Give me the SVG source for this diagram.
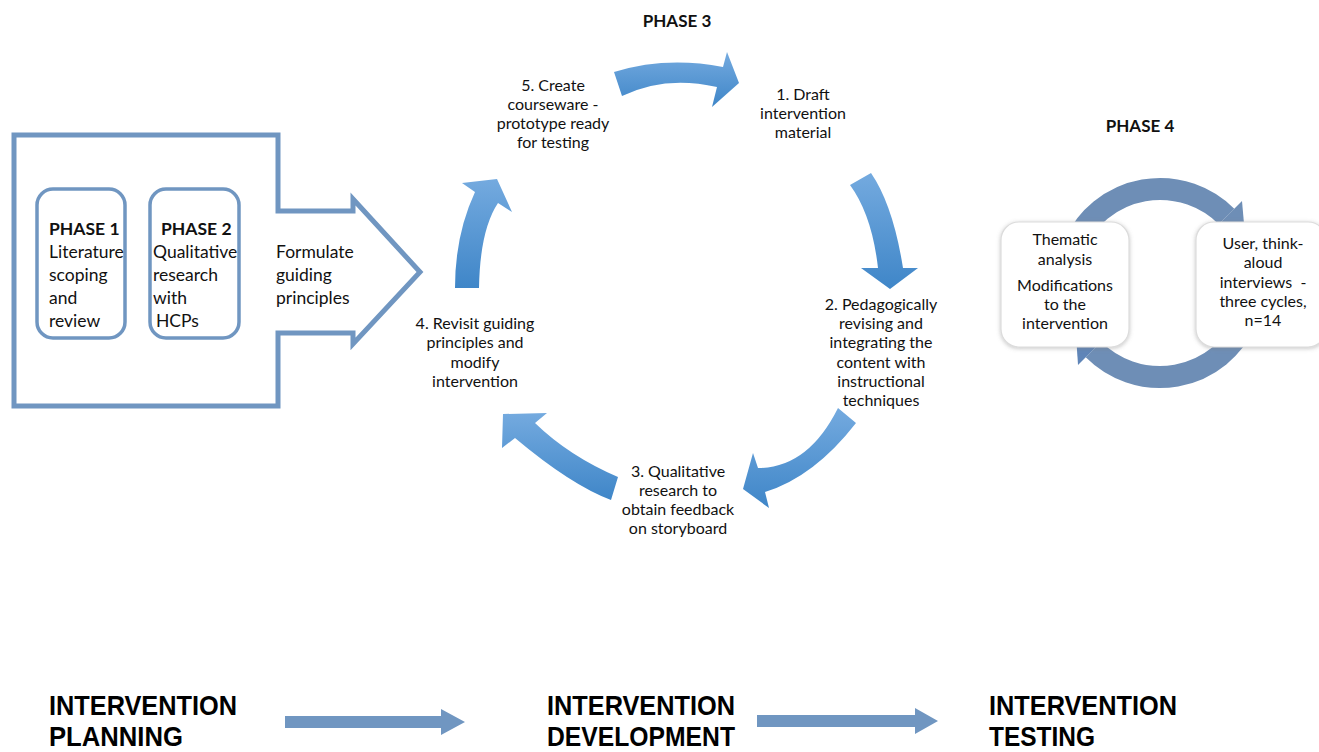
<svg xmlns="http://www.w3.org/2000/svg" width="1319" height="752" viewBox="0 0 1319 752">
  <defs>
    <!-- vertical blue gradient shared by the five cycle arrows -->
    <linearGradient id="cycleBlue" x1="0" y1="0" x2="0" y2="1">
      <stop offset="0" stop-color="#74aadf"/>
      <stop offset="1" stop-color="#3f86c8"/>
    </linearGradient>
    <filter id="softShadow" x="-20%" y="-20%" width="140%" height="140%">
      <feDropShadow dx="0" dy="1" stdDeviation="2.2" flood-color="#7a7a7a" flood-opacity="0.45"/>
    </filter>
    <style>
      .txt { font-family: Lato, "Liberation Sans", sans-serif; font-size: 16px; fill: #111; }
      .mid { text-anchor: middle; }
      .big { font-size: 17.5px; }
      .bold { font-weight: bold; }
      .outline { fill: none; stroke: #7096c1; stroke-linejoin: miter; }
      .cycle { fill: url(#cycleBlue); }
      .loop { fill: none; stroke: #6e8eb6; stroke-width: 22; }
      .loophead { fill: #6e8eb6; }
      .card { fill: #ffffff; stroke: #dcdcdc; stroke-width: 1.2; filter: url(#softShadow); }
      .stage { font-family: "Liberation Sans", Arial, sans-serif; font-weight: bold; font-size: 28px; fill: #000; }
      .flow { fill: #7096c1; }
    </style>
  </defs>

  <rect width="1319" height="752" fill="#ffffff"/>

  <!-- Intervention planning: outline block arrow holding phases 1 and 2 -->
  <g id="planning">
    <path class="outline" stroke-width="5" d="M14,135 H278 V211 H353 V199 L420,272 L353,344 V333 H278 V406 H14 Z"/>
    <text class="txt big" x="276" y="258">Formulate</text>
    <text class="txt big" x="276" y="281">guiding</text>
    <text class="txt big" x="276" y="304">principles</text>
  </g>

  <g id="phase1">
    <rect class="outline" stroke-width="3.5" x="37" y="189" width="88" height="149" rx="16"/>
    <text class="txt big bold" x="49" y="235">PHASE 1</text>
    <text class="txt big" x="49" y="258">Literature</text>
    <text class="txt big" x="49" y="281">scoping</text>
    <text class="txt big" x="49" y="304">and</text>
    <text class="txt big" x="49" y="327">review</text>
  </g>

  <g id="phase2">
    <rect class="outline" stroke-width="3.5" x="150" y="189" width="89" height="149" rx="16"/>
    <text class="txt big bold" x="161" y="235">PHASE 2</text>
    <text class="txt big" x="153" y="258">Qualitative</text>
    <text class="txt big" x="153" y="281">research</text>
    <text class="txt big" x="153" y="304">with</text>
    <text class="txt big" x="156" y="327">HCPs</text>
  </g>

  <!-- Phase 3: development cycle -->
  <g id="phase3-title">
    <text class="txt bold mid" x="677" y="27" style="font-size:17px">PHASE 3</text>
  </g>

  <g id="step1">
    <text class="txt mid" x="803" y="100">1. Draft</text>
    <text class="txt mid" x="803" y="119">intervention</text>
    <text class="txt mid" x="803" y="138">material</text>
  </g>

  <g id="step2">
    <text class="txt mid" x="881" y="310">2. Pedagogically</text>
    <text class="txt mid" x="881" y="329">revising and</text>
    <text class="txt mid" x="881" y="348">integrating the</text>
    <text class="txt mid" x="881" y="368">content with</text>
    <text class="txt mid" x="881" y="387">instructional</text>
    <text class="txt mid" x="881" y="406">techniques</text>
  </g>

  <g id="step3">
    <text class="txt mid" x="678" y="477">3. Qualitative</text>
    <text class="txt mid" x="678" y="496">research to</text>
    <text class="txt mid" x="678" y="515">obtain feedback</text>
    <text class="txt mid" x="678" y="534">on storyboard</text>
  </g>

  <g id="step4">
    <text class="txt mid" x="475" y="329">4. Revisit guiding</text>
    <text class="txt mid" x="475" y="348">principles and</text>
    <text class="txt mid" x="475" y="368">modify</text>
    <text class="txt mid" x="475" y="387">intervention</text>
  </g>

  <g id="step5">
    <text class="txt mid" x="553" y="91">5. Create</text>
    <text class="txt mid" x="553" y="110">courseware -</text>
    <text class="txt mid" x="553" y="129">prototype ready</text>
    <text class="txt mid" x="553" y="148">for testing</text>
  </g>

  <g id="cycle-connectors">
    <!-- 5 to 1 -->
    <path class="cycle" d="M614,72 Q666,56 723,67 L727,52 L739,83 L712,107 L717,87 Q665,75 622,96 Z"/>
    <!-- 1 to 2 -->
    <path class="cycle" d="M850,185 L871,173 Q893,205 903,268 L918,268 L890,289 L861,268 L878,268 Q872,215 850,185 Z"/>
    <!-- 2 to 3 -->
    <path class="cycle" d="M838,408 L856,423 Q814,477 765,492 L769,508 L743,489 L753,453 L758,468 Q808,468 838,408 Z"/>
    <!-- 3 to 4 -->
    <path class="cycle" d="M618,477 Q569,456 535,423 L547,413 L503,414 L502,448 L515,438 Q571,485 611,500 Z"/>
    <!-- 4 to 5 -->
    <path class="cycle" d="M455,288 Q455,235 475,192 L462,183 L497,179 L512,212 L498,203 Q480,230 479,288 Z"/>
  </g>

  <!-- Phase 4: testing loop -->
  <g id="phase4-title">
    <text class="txt bold mid" x="1140" y="132" style="font-size:17px">PHASE 4</text>
  </g>

  <g id="phase4-connectors">
    <path class="loop" d="M1074.8,243.3 A94,94 0 0 1 1226.5,216.5"/>
    <polygon class="loophead" points="1242,201 1245,235 1210.9,232.1"/>
    <path class="loop" d="M1245.2,322.7 A94,94 0 0 1 1093.5,349.5"/>
    <polygon class="loophead" points="1078,365 1075.8,331.8 1109,334" style="fill:#5f85b8"/>
  </g>

  <g id="analysis">
    <rect class="card" x="1001" y="222" width="128" height="125" rx="18"/>
    <text class="txt mid" x="1065" y="245">Thematic</text>
    <text class="txt mid" x="1065" y="265">analysis</text>
    <text class="txt mid" x="1065" y="291">Modifications</text>
    <text class="txt mid" x="1065" y="310">to the</text>
    <text class="txt mid" x="1065" y="329">intervention</text>
  </g>

  <g id="interviews">
    <rect class="card" x="1196" y="222" width="130" height="125" rx="18"/>
    <text class="txt mid" x="1263" y="249">User, think-</text>
    <text class="txt mid" x="1263" y="268">aloud</text>
    <text class="txt mid" x="1263" y="288">interviews&#160; -</text>
    <text class="txt mid" x="1263" y="307">three cycles,</text>
    <text class="txt mid" x="1263" y="326">n=14</text>
  </g>

  <!-- Stage row along the bottom -->
  <g id="stage-planning">
    <text class="stage" x="49" y="715" textLength="188" lengthAdjust="spacingAndGlyphs">INTERVENTION</text>
    <text class="stage" x="49" y="746" textLength="134" lengthAdjust="spacingAndGlyphs">PLANNING</text>
  </g>
  <g id="stage-development">
    <text class="stage" x="547" y="715" textLength="188" lengthAdjust="spacingAndGlyphs">INTERVENTION</text>
    <text class="stage" x="547" y="746" textLength="188" lengthAdjust="spacingAndGlyphs">DEVELOPMENT</text>
  </g>
  <g id="stage-testing">
    <text class="stage" x="989" y="715" textLength="188" lengthAdjust="spacingAndGlyphs">INTERVENTION</text>
    <text class="stage" x="989" y="746" textLength="106" lengthAdjust="spacingAndGlyphs">TESTING</text>
  </g>

  <g id="stage-connectors">
    <path class="flow" d="M285,716 H441 V709 L465,722 L441,735 V728 H285 Z"/>
    <path class="flow" d="M757,715 H915 V708 L938,721 L915,734 V727 H757 Z"/>
  </g>
</svg>
